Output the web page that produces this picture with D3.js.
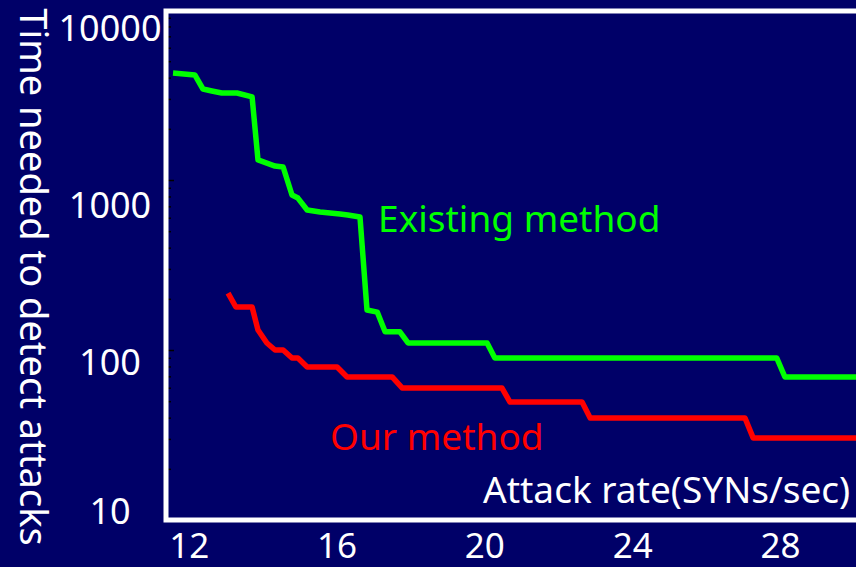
<!DOCTYPE html>
<html><head><meta charset="utf-8">
<script src="https://cdn.jsdelivr.net/npm/d3@7"></script>
<style>html,body{margin:0;padding:0;background:#000068;overflow:hidden} svg{display:block}</style>
</head><body><svg id="c" width="856" height="567"></svg>
<script>
// ---- data ----
const existingX = [11.56,12.15,12.37,12.61,12.88,13.29,13.70,13.86,14.32,14.54,14.78,14.94,15.19,15.54,15.81,16.08,16.29,16.62,16.81,17.09,17.30,17.70,17.92,20.06,20.27,27.90,28.12,30.5];
const existingY = [4260,4150,3430,3340,3250,3250,3080,1312,1208,1192,816,783,666,648,639,631,623,606,172,167,128,128,110,110,89.7,89.7,69.4,69.4];
const ourX = [13.05,13.26,13.70,13.86,14.10,14.32,14.54,14.78,14.94,15.19,16.00,16.27,17.49,17.76,20.46,20.68,22.63,22.85,27.04,27.26,30.5];
const ourY = [216,179,179,131,110,100,100,89.7,89.7,79.4,79.4,69.4,69.4,59.8,59.8,49.4,49.4,39.8,39.8,30.4,30.4];
const xTickValues = [12,16,20,24,28];
const yTickValues = [10,100,1000,10000];
const seriesNames = ["Existing method","Our method"];
const seriesColors = ["#00ff00","#ff0000"];
const labelAnchorX = [17.11, 15.81];
const labelAnchorY = [494, 25.8];
const xTitle = "Attack rate(SYNs/sec)";
const yTitle = "Time needed to detect attacks";

// ---- layout ----
const svg = d3.select("#c");
const bg = "#000068";
svg.append("rect").attr("width",856).attr("height",567).attr("fill",bg);

const x = d3.scaleLinear().domain([11.37, 31]).range([166, 166 + (31-11.37)*36.95]);
const y = d3.scaleLog().domain([10, 10000]).range([520, 10]);
// tick labels in the slide sit slightly off the tick positions
const yLabel = d3.scaleLog().domain([10, 100, 1000, 10000]).range([511, 362, 205, 28]);

const font = "'Noto Sans', 'Open Sans', sans-serif";

svg.append("clipPath").attr("id","plot").append("rect")
  .attr("x", x.range()[0]).attr("y", y.range()[1])
  .attr("width", x.range()[1]-x.range()[0]).attr("height", y.range()[0]-y.range()[1]);

// left axis ticks (dark, inside)
const yAxis = d3.axisRight(y).tickValues(d3.range(1,4).flatMap(e => d3.range(1,10).map(m => m*Math.pow(10,e))).filter(v => v>10 && v<10000))
  .tickSize(4).tickFormat("");
const ya = svg.append("g").attr("transform",`translate(${x.range()[0]+2},0)`).call(yAxis);
ya.select(".domain").remove();
ya.selectAll(".tick line").attr("stroke","#000").attr("stroke-width",1.5)
  .attr("x2", d => (Math.abs(Math.log10(d) % 1) < 1e-9) ? 6 : 3);

// lines
const line = d3.line().x(d => x(d[0])).y(d => y(d[1]));
const series = [d3.zip(existingX, existingY), d3.zip(ourX, ourY)];
const g = svg.append("g").attr("clip-path","url(#plot)");
series.forEach((s,i) => {
  g.append("path").datum(s).attr("d", line).attr("fill","none")
    .attr("stroke", seriesColors[i]).attr("stroke-width",5.5).attr("stroke-linejoin","round");
});

// frame
svg.append("rect")
  .attr("x", x.range()[0]).attr("y", y.range()[1]+1)
  .attr("width", x.range()[1]-x.range()[0]).attr("height", y.range()[0]-y.range()[1]-1)
  .attr("fill","none").attr("stroke","#ffffff").attr("stroke-width",5);

// y tick labels
svg.append("g").selectAll("text").data(yTickValues).join("text")
  .attr("x", 110).attr("y", d => yLabel(d)).attr("dy","0.36em")
  .attr("text-anchor","middle").attr("fill","#fff")
  .style("font-family",font).style("font-size","36px")
  .text(d => d3.format("d")(d));

// x tick labels
svg.append("g").selectAll("text").data(xTickValues).join("text")
  .attr("x", d => x(d)).attr("y", 558)
  .attr("text-anchor","middle").attr("fill","#fff")
  .style("font-family",font).style("font-size","35px")
  .text(d => d);

// series labels
seriesNames.forEach((n,i) => {
  svg.append("text").attr("x", x(labelAnchorX[i])).attr("y", y(labelAnchorY[i]))
    .attr("fill", seriesColors[i]).style("font-family",font).style("font-size","37px").text(n);
});

// axis titles
svg.append("text").attr("x", x(19.95)).attr("y", y(12.6))
  .attr("fill","#fff").style("font-family",font).style("font-size","37px").text(xTitle);
svg.append("text").attr("transform","translate(20,277) rotate(90)")
  .attr("text-anchor","middle")
  .attr("fill","#fff").style("font-family",font).style("font-size","38px").text(yTitle);
</script></body></html>
